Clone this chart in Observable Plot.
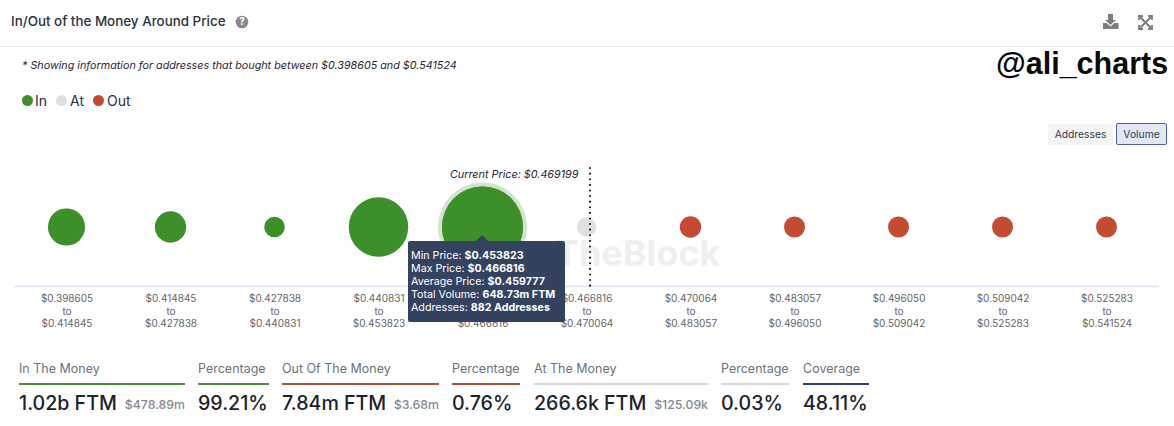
<!DOCTYPE html>
<html><head><meta charset="utf-8">
<script src="https://cdn.jsdelivr.net/npm/d3@7"></script>
<script src="https://cdn.jsdelivr.net/npm/@observablehq/plot@0.6"></script>
<style>
html,body{margin:0;padding:0;background:#fff;overflow:hidden}
body{font-family:Inter,sans-serif;color:#1f2630}
#page{position:relative;width:1174px;height:426px;overflow:hidden}
.abs{position:absolute;white-space:nowrap}
#chart{position:absolute;left:0;top:168px}
#chart svg{display:block}
.dot{position:absolute;width:11px;height:11px;border-radius:50%;top:95px}
.lg{position:absolute;top:92px;font-size:14px;line-height:18px;color:#2a3038}
.btn{position:absolute;box-sizing:border-box;font-size:10.3px;padding-bottom:1px;display:flex;align-items:center;justify-content:center;color:#333b47;border-radius:2px}
.tip{position:absolute;left:408px;top:241px;width:157px;height:81px;background:#33425f;border-radius:2px;color:#fff;font-size:10.7px;line-height:13.1px;padding:8px 0 0 3px;box-sizing:border-box;white-space:nowrap}
.tip b{font-weight:700}
.tip:before{content:"";position:absolute;left:68px;top:-6px;border-left:6px solid transparent;border-right:6px solid transparent;border-bottom:6px solid #33425f}
.sl{position:absolute;top:360px;font-size:12.5px;line-height:17px;color:#6c737c;white-space:nowrap}
.sr{position:absolute;top:383px;height:1.5px}
.sv{position:absolute;top:391px;font-size:19.6px;line-height:25px;font-weight:500;color:#1c232c;white-space:nowrap}
.ss{position:absolute;top:397px;font-size:12.3px;line-height:16px;font-weight:500;color:#838a92;white-space:nowrap;text-align:right}
</style></head>
<body><div id="page"></div>
<script>
const binLow  = ["$0.398605","$0.414845","$0.427838","$0.440831","$0.453823","$0.466816","$0.470064","$0.483057","$0.496050","$0.509042","$0.525283"];
const binHigh = ["$0.414845","$0.427838","$0.440831","$0.453823","$0.466816","$0.470064","$0.483057","$0.496050","$0.509042","$0.525283","$0.541524"];
const volumes = [60, 29, 1.1, 281, 648.73, 0.2666, 1.9, 1.5, 1.5, 1.5, 1.44];
const states  = ["In","In","In","In","In","At","Out","Out","Out","Out","Out"];
const legendNames = ["In","At","Out"];
const legendColors = ["#3d8f2a","#e0e0e0","#c54a32"];
const tipLines = [["Min Price:","$0.453823"],["Max Price:","$0.466816"],["Average Price:","$0.459777"],["Total Volume:","648.73m FTM"],["Addresses:","882 Addresses"]];
const stats = [
  {l:"In The Money",v:"1.02b FTM",s:"$478.89m",x:19,w:166,c:"#4f8a3d"},
  {l:"Percentage",v:"99.21%",x:198,w:70.5,c:"#4f8a3d"},
  {l:"Out Of The Money",v:"7.84m FTM",s:"$3.68m",x:282,w:157,c:"#a5513f"},
  {l:"Percentage",v:"0.76%",x:452,w:68,c:"#a5513f"},
  {l:"At The Money",v:"266.6k FTM",s:"$125.09k",x:534,w:174,c:"#d6d8dc"},
  {l:"Percentage",v:"0.03%",x:721,w:68,c:"#d6d8dc"},
  {l:"Coverage",v:"48.11%",x:803,w:66,c:"#2f3f8f"}
];
const bins = binLow.map((lo,i)=>({label:lo+"\nto\n"+binHigh[i],volume:volumes[i],state:states[i]}));
const page = document.getElementById("page");
const add=(cls,html,style)=>{const d=document.createElement("div");d.className=cls;d.innerHTML=html||"";Object.assign(d.style,style||{});page.appendChild(d);return d;};

add("abs","In/Out of the Money Around Price",{left:"11px",top:"12px",fontSize:"13.4px",lineHeight:"18px",fontWeight:"500",color:"#2b323b"});
add("abs",'<svg width="14" height="14" viewBox="0 0 14 14"><circle cx="7" cy="7" r="6.3" fill="#8a8a8a"/><text x="7" y="10.4" font-size="10" font-weight="700" text-anchor="middle" fill="#fff" font-family="Inter">?</text></svg>',{left:"235px",top:"13px"});
add("abs",'<svg width="18" height="17" viewBox="0 0 18 17" fill="#7d7d7d"><path d="M6 1h5v6h3l-5.500 5-5.500-5h3z"/><path d="M1 10h3.500l4 3.500 4-3.500H16.500v6H1z"/></svg>',{left:"1102px",top:"13px"});
add("abs",'<svg width="15" height="15" viewBox="0 0 15 15" fill="none" stroke="#7d7d7d" stroke-width="2"><path d="M2 2l11 11M13 2L2 13"/><path d="M1 5V1h4M10 1h4v4M14 10v4h-4M5 14H1v-4" stroke-width="1.800"/></svg>',{left:"1138px",top:"14px"});
add("abs","",{left:"0",top:"46px",width:"1174px",height:"1px",background:"#e8e8e8"});
add("abs","* Showing information for addresses that bought between $0.398605 and $0.541524",{left:"22px",top:"58px",fontSize:"10.78px",lineHeight:"15px",fontStyle:"italic",color:"#1f2630"});
add("abs","@ali_charts",{left:"996px",top:"44px",fontFamily:"'Liberation Sans',sans-serif",fontWeight:"700",fontSize:"30.500px",lineHeight:"38px",color:"#0a0a0a"});

const legendDotX=[22,56,93], legendTextX=[35,70,107];
legendNames.forEach((n,i)=>{
  add("dot","",{left:legendDotX[i]+"px",background:legendColors[i]});
  add("lg",n,{left:legendTextX[i]+"px"});
});
add("btn","Addresses",{left:"1048px",top:"124px",width:"65px",height:"21px",background:"#f3f4f6"});
add("btn","Volume",{left:"1116px",top:"123px",width:"51px",height:"22px",background:"#e3e7f4",border:"1px solid #4a5fa8"});

const chart = Plot.plot({
  width:1174,height:182,marginTop:0,marginBottom:64,marginLeft:14,marginRight:16,
  style:{fontFamily:"Inter, sans-serif",background:"transparent",overflow:"visible"},
  x:{type:"band",domain:bins.map(d=>d.label),padding:0,axis:null},
  r:{type:"sqrt",domain:[0,648.73],range:[9,40.5]},
  color:{domain:legendNames,range:legendColors},
  marks:[
    Plot.text(["IntoTheBlock"],{x:()=>bins[6].label,frameAnchor:"bottom",dy:-21,dx:30,textAnchor:"end",fontSize:36,fontWeight:700,fill:"#efefef"}),
    Plot.frame({anchor:"bottom",stroke:"#dfe2f0",strokeWidth:1.5}),
    Plot.dot(bins.filter(d=>d.volume===d3.max(volumes)),{x:"label",r:"volume",fill:"#3d8f2a",stroke:"#3d8f2a",strokeOpacity:0.24,strokeWidth:8,dy:-0.5}),
    Plot.dot(bins,{x:"label",r:"volume",fill:"state",dy:-0.5}),
    Plot.ruleX([bins[5].label],{x:d=>d,dx:3.5,stroke:"#111",strokeWidth:2,strokeDasharray:"0.1 5.5",strokeLinecap:"round"}),
    Plot.text(["Current Price: $0.469199"],{x:()=>bins[5].label,frameAnchor:"top",dy:2,dx:-8,textAnchor:"end",fontSize:10.8,fontStyle:"italic",fill:"#1f2630"}),
    Plot.axisX({domain:bins.map(d=>d.label),anchor:"bottom",tickSize:0,tickPadding:7,fontSize:10,lineHeight:1.25,label:null,fill:"#666",dx:0.5})
  ]
});
const holder=document.createElement("div");holder.id="chart";holder.appendChild(chart);page.appendChild(holder);

add("tip",tipLines.map(([a,b])=>`<div>${a} <b>${b}</b></div>`).join(""));

stats.forEach(s=>{
  add("sl",s.l,{left:s.x+"px"});
  add("sr","",{left:s.x+"px",width:s.w+"px",background:s.c});
  add("sv",s.v,{left:s.x+"px"});
  if(s.s) add("ss",s.s,{right:(1174-s.x-s.w)+"px"});
});
</script></body></html>
